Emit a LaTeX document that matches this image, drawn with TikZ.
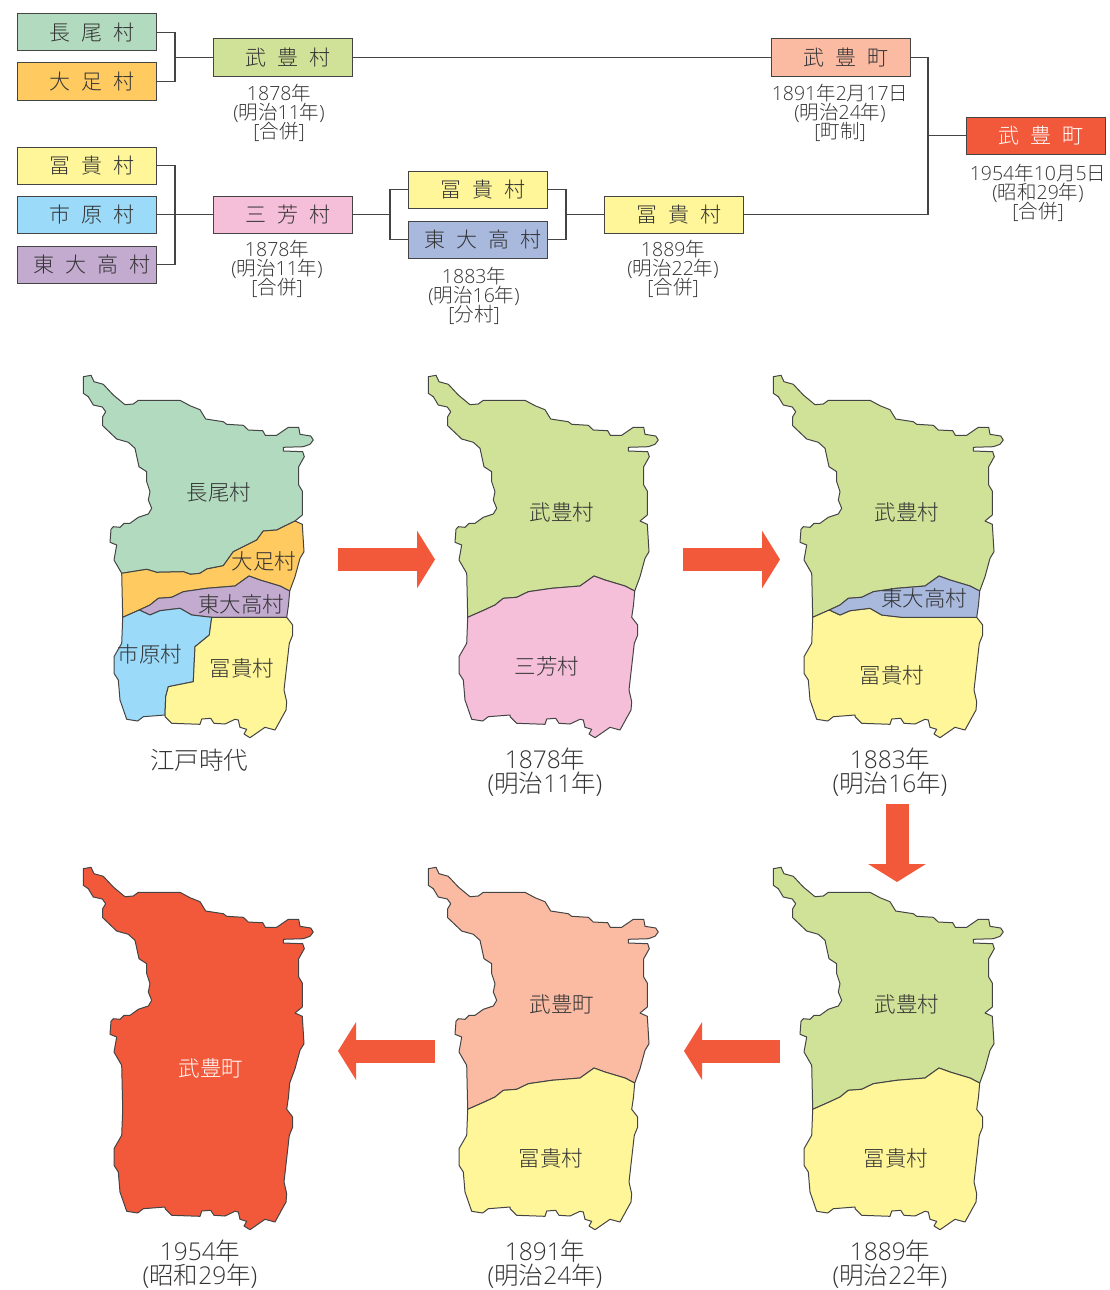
\documentclass[tikz,border=0pt]{standalone}
\usepackage{fontspec}
\setmainfont{Noto Sans CJK JP Light}
\newfontfamily\mzdig{Open Sans Light}
\usetikzlibrary{arrows.meta}
\definecolor{cNaga}{HTML}{B2DABF}
\definecolor{cAshi}{HTML}{FFCB60}
\definecolor{cHiga}{HTML}{C3AACF}
\definecolor{cIchi}{HTML}{9BDAF8}
\definecolor{cTomi}{HTML}{FFF599}
\definecolor{cTake}{HTML}{D0E298}
\definecolor{cMiyo}{HTML}{F6BFD9}
\definecolor{cHigb}{HTML}{A9B9DE}
\definecolor{cSalm}{HTML}{FBBBA3}
\definecolor{cRed}{HTML}{F2593B}
\definecolor{cInk}{HTML}{333333}
\definecolor{cLine}{HTML}{444444}
\newcommand{\mzl}[1]{{\mzdig #1}}
\newcommand{\mzcapf}{\fontsize{19.5}{19}\selectfont\lineskiplimit=-100pt\relax}
\newcommand{\mzbigf}{\fontsize{24.5}{24}\selectfont\lineskiplimit=-100pt\relax}
% outline segments (coordinates in reference pixels, first map)
\def\mzTop{(83.3,376.7) -- (91,375.3) -- (94,381.7) -- (103.3,384.3) -- (113.3,395) -- (125,404.7) -- (133.3,404) -- (138.3,400.3) -- (180,400.3) -- (190,405.7) -- (200,409.7) -- (205.7,419) -- (223.3,421.7) -- (226.7,424.3) -- (243.3,425.3) -- (248.3,430) -- (262.7,430.7) -- (265.3,435.3) -- (276.7,435.3) -- (288.3,427.3) -- (298.7,427.3) -- (300,434.3) -- (310.7,436) -- (313.3,440) -- (310,444.3) -- (303.3,446.7) -- (283.3,447.3) -- (283.3,451) -- (302.7,451.7) -- (304.3,456.7) -- (298.7,466.7) -- (298.7,485) -- (302.3,491) -- (302.3,515) -- (295,521)}
\def\mzRa{-- (302.3,524.3) -- (304,551.7) -- (300,558.3) -- (295,576.7) -- (289.7,591)}
\def\mzRb{-- (288.5,605) -- (286.7,617.3)}
\def\mzRc{-- (292.7,625) -- (292.7,635) -- (289.3,643.3) -- (284,690) -- (286.7,701.7) -- (286,710) -- (275,730) -- (265,727.3) -- (250,737.7) -- (244,734) -- (246.7,729.3) -- (240,727.3) -- (238.3,720) -- (235,719.3) -- (225,724) -- (214,723.3) -- (210.7,718.3) -- (201.7,719) -- (200,724.3) -- (171.7,723.3) -- (165,716.7) -- (165,715)}
\def\mzRd{-- (143.3,716.7) -- (137.7,721) -- (126.7,719.3) -- (120,700) -- (118.3,680) -- (114,673.3) -- (114,656.7) -- (121.7,643.3) -- (122.7,617.3)}
\def\mzLa{-- (121.7,573.3)}
\def\mzLb{-- (114,560) -- (116.7,545) -- (110,542.3) -- (111,529.3) -- (113.3,526.7) -- (120,527.3) -- (124,523.3) -- (130,523.3) -- (138.3,517.3) -- (148.3,514) -- (151.7,508.3) -- (148.3,500) -- (150,491.7) -- (146.7,481.7) -- (146.7,471.7) -- (139,466.7) -- (135,448.3) -- (128.3,442.3) -- (116.7,439) -- (102.7,425.7) -- (102.7,416.7) -- (105.7,411.7) -- (102.3,407) -- (93.3,405) -- (88.3,396.7) -- (83.3,393.3) -- cycle}
\def\mzOne{-- (146.7,569.3) -- (156.7,572.3) -- (183.3,571.7) -- (190.7,574.3) -- (200,573.3) -- (206.7,569) -- (223.3,565.7) -- (233.3,551.7) -- (256.7,540) -- (263.3,531) -- (276.7,530) -- (295,521)}
\def\mzOneR{-- (276.7,530) -- (263.3,531) -- (256.7,540) -- (233.3,551.7) -- (223.3,565.7) -- (206.7,569) -- (200,573.3) -- (190.7,574.3) -- (183.3,571.7) -- (156.7,572.3) -- (146.7,569.3) -- (121.7,573.3)}
\def\mzTwo{-- (280,586) -- (260,580) -- (249,576) -- (235,586) -- (206.7,588.3) -- (183.3,591.7) -- (171.7,597.3) -- (158.3,598.3) -- (150,605) -- (139.3,610)}
\def\mzTwoR{-- (150,605) -- (158.3,598.3) -- (171.7,597.3) -- (183.3,591.7) -- (206.7,588.3) -- (235,586) -- (249,576) -- (260,580) -- (280,586) -- (289.7,591)}
\def\mzPa{-- (150,615) -- (160,610.7) -- (180,608.3) -- (191.7,615) -- (211.7,617.3)}
\def\mzPb{-- (286.7,617.3)}
\def\mzYa{-- (209.3,635) -- (195,646.7) -- (193.3,681.7) -- (168.3,686.7) -- (165.7,696.7) -- (165,715)}
\def\mzYb{-- (165.7,696.7) -- (168.3,686.7) -- (193.3,681.7) -- (195,646.7) -- (209.3,635) -- (211.7,617.3)}
% regions
\def\mzNaga{\mzTop \mzOneR \mzLb}
\def\mzAshi{(121.7,573.3) \mzOne \mzRa \mzTwo -- (122.7,617.3) \mzLa -- cycle}
\def\mzHiga{(289.7,591) \mzTwo \mzPa \mzPb -- (288.5,605) -- cycle}
\def\mzIchi{(122.7,617.3) -- (139.3,610) \mzPa \mzYa \mzRd -- cycle}
\def\mzTomi{(211.7,617.3) \mzPb \mzRc \mzYb -- cycle}
\def\mzTake{\mzTop \mzRa \mzTwo -- (122.7,617.3) \mzLa \mzLb}
\def\mzLow{(122.7,617.3) -- (139.3,610) \mzTwoR \mzRb \mzRc \mzRd -- cycle}
\def\mzLowP{(122.7,617.3) -- (139.3,610) \mzPa \mzPb \mzRc \mzRd -- cycle}
\def\mzAll{\mzTop \mzRa \mzRb \mzRc \mzRd \mzLa \mzLb}
\tikzset{
  vbox/.style={draw=cLine,line width=1pt,minimum width=139pt,minimum height=37pt,inner sep=0pt,text=cInk,font=\fontsize{21}{21}\selectfont},
  conn/.style={draw=cLine,line width=1.2pt},
  capt/.style={text=cInk,align=center,inner sep=0pt,font=\mzcapf},
  bigcapt/.style={text=cInk,align=center,inner sep=0pt,font=\mzbigf},
  maplab/.style={text=cInk,inner sep=0pt,font=\fontsize{21.5}{22}\selectfont},
  region/.style={draw=cLine,line width=1pt,line join=round},
  bigarrow/.style={draw=cRed,line width=23pt,-{Triangle[length=18pt,width=57pt]}}
}
\newcommand{\mzbx}[1]{\spaceskip=11pt\relax\hspace*{11pt}#1}
\begin{document}
\begin{tikzpicture}[x=1pt,y=-1pt]
\useasboundingbox (0,0) rectangle (1110,1290);
% chart boxes
\node[vbox,fill=cNaga] (naga) at (86.5,32.5) {\mzbx{長 尾 村}};
\node[vbox,fill=cAshi] (ashi) at (86.5,81.5) {\mzbx{大 足 村}};
\node[vbox,fill=cTake] (take) at (282.5,57.5) {\mzbx{武 豊 村}};
\node[vbox,fill=cTomi] (tomiA) at (86.5,165.5) {\mzbx{冨 貴 村}};
\node[vbox,fill=cIchi] (ichi) at (86.5,214.5) {\mzbx{市 原 村}};
\node[vbox,fill=cHiga] (higa) at (86.5,264.5) {\mzbx{東 大 高 村}};
\node[vbox,fill=cMiyo] (miyo) at (282.5,214.5) {\mzbx{三 芳 村}};
\node[vbox,fill=cTomi] (tomiB) at (477.5,189.5) {\mzbx{冨 貴 村}};
\node[vbox,fill=cHigb] (higb) at (477.5,239.5) {\mzbx{東 大 高 村}};
\node[vbox,fill=cTomi] (tomiC) at (673.5,214.5) {\mzbx{冨 貴 村}};
\node[vbox,fill=cSalm] (town) at (840.5,57.5) {\mzbx{武 豊 町}};
\node[vbox,fill=cRed,text=white] (newt) at (1035.5,135.5) {\mzbx{武 豊 町}};
% junctions
\coordinate (j1) at (175,57.5);
\coordinate (j2) at (175,214.5);
\coordinate (j3) at (390,214.5);
\coordinate (j4) at (566,214.5);
\coordinate (j5) at (928,135.5);
% connectors
\draw[conn] (naga.east) -| (j1) |- (ashi.east);
\draw[conn] (j1) -- (take.west);
\draw[conn] (take.east) -- (town.west);
\draw[conn] (tomiA.east) -| (j2) |- (higa.east);
\draw[conn] (ichi.east) -- (miyo.west);
\draw[conn] (miyo.east) -- (j3);
\draw[conn] (tomiB.west) -| (j3) |- (higb.west);
\draw[conn] (tomiB.east) -| (j4) |- (higb.east);
\draw[conn] (j4) -- (tomiC.west);
\draw[conn] (town.east) -| (j5) |- (tomiC.east);
\draw[conn] (j5) -- (newt.west);
% chart captions
\node[capt] (c1) at (279,112.5) {\mzl{1878}年\\\mzl{(}明治\mzl{11}年\mzl{)}\\\mzl{[}合併\mzl{]}};
\node[capt] (c2) at (277,268.5) {\mzl{1878}年\\\mzl{(}明治\mzl{11}年\mzl{)}\\\mzl{[}合併\mzl{]}};
\node[capt] (c3) at (474,295.5) {\mzl{1883}年\\\mzl{(}明治\mzl{16}年\mzl{)}\\\mzl{[}分村\mzl{]}};
\node[capt] (c4) at (673,268.5) {\mzl{1889}年\\\mzl{(}明治\mzl{22}年\mzl{)}\\\mzl{[}合併\mzl{]}};
\node[capt] (c5) at (840,112.5) {\mzl{1891}年\mzl{2}月\mzl{17}日\\\mzl{(}明治\mzl{24}年\mzl{)}\\\mzl{[}町制\mzl{]}};
\node[capt] (c6) at (1038,192.5) {\mzl{1954}年\mzl{10}月\mzl{5}日\\\mzl{(}昭和\mzl{29}年\mzl{)}\\\mzl{[}合併\mzl{]}};
% map 1: Edo
\filldraw[region,fill=cNaga] \mzNaga;
\filldraw[region,fill=cAshi] \mzAshi;
\filldraw[region,fill=cHiga] \mzHiga;
\filldraw[region,fill=cIchi] \mzIchi;
\filldraw[region,fill=cTomi] \mzTomi;
\node[maplab] (m1a) at (219,492) {長尾村};
\node[maplab] (m1b) at (264,561) {大足村};
\node[maplab] (m1c) at (241,604) {東大高村};
\node[maplab] (m1d) at (150,654) {市原村};
\node[maplab] (m1e) at (242,668) {冨貴村};
\node[bigcapt] (t1) at (199,760) {江戸時代};
% map 2: 1878
\begin{scope}[shift={(345,0)}]
\filldraw[region,fill=cTake] \mzTake;
\filldraw[region,fill=cMiyo] \mzLow;
\end{scope}
\node[maplab] (m2a) at (562,512) {武豊村};
\node[maplab] (m2b) at (547,666) {三芳村};
\node[bigcapt] (t2) at (545,772.5) {\mzl{1878}年\\\mzl{(}明治\mzl{11}年\mzl{)}};
% map 3: 1883
\begin{scope}[shift={(690,0)}]
\filldraw[region,fill=cTake] \mzTake;
\filldraw[region,fill=cTomi] \mzLowP;
\filldraw[region,fill=cHigb] \mzHiga;
\end{scope}
\node[maplab] (m3a) at (907,512) {武豊村};
\node[maplab] (m3b) at (924,598) {東大高村};
\node[maplab] (m3c) at (892,675) {冨貴村};
\node[bigcapt] (t3) at (890,772.5) {\mzl{1883}年\\\mzl{(}明治\mzl{16}年\mzl{)}};
% map 4: 1889
\begin{scope}[shift={(690,492)}]
\filldraw[region,fill=cTake] \mzTake;
\filldraw[region,fill=cTomi] \mzLow;
\end{scope}
\node[maplab] (m4a) at (907,1004) {武豊村};
\node[maplab] (m4b) at (896,1158) {冨貴村};
\node[bigcapt] (t4) at (890,1264.5) {\mzl{1889}年\\\mzl{(}明治\mzl{22}年\mzl{)}};
% map 5: 1891
\begin{scope}[shift={(345,492)}]
\filldraw[region,fill=cSalm] \mzTake;
\filldraw[region,fill=cTomi] \mzLow;
\end{scope}
\node[maplab] (m5a) at (562,1004) {武豊町};
\node[maplab] (m5b) at (551,1158) {冨貴村};
\node[bigcapt] (t5) at (545,1264.5) {\mzl{1891}年\\\mzl{(}明治\mzl{24}年\mzl{)}};
% map 6: 1954
\begin{scope}[shift={(0,492)}]
\filldraw[region,fill=cRed] \mzAll;
\end{scope}
\node[maplab,text=white] (m6a) at (211,1068) {武豊町};
\node[bigcapt] (t6) at (200,1264.5) {\mzl{1954}年\\\mzl{(}昭和\mzl{29}年\mzl{)}};
% big arrows
\coordinate (a1s) at (338,559.5); \coordinate (a1e) at (435,559.5);
\coordinate (a2s) at (683,559.5); \coordinate (a2e) at (780,559.5);
\coordinate (a3s) at (897,804); \coordinate (a3e) at (897,882);
\coordinate (a4s) at (780,1051); \coordinate (a4e) at (684,1051);
\coordinate (a5s) at (435,1051); \coordinate (a5e) at (338,1051);
\draw[bigarrow] (a1s) -- (a1e);
\draw[bigarrow] (a2s) -- (a2e);
\draw[bigarrow] (a3s) -- (a3e);
\draw[bigarrow] (a4s) -- (a4e);
\draw[bigarrow] (a5s) -- (a5e);
\end{tikzpicture}
\end{document}
